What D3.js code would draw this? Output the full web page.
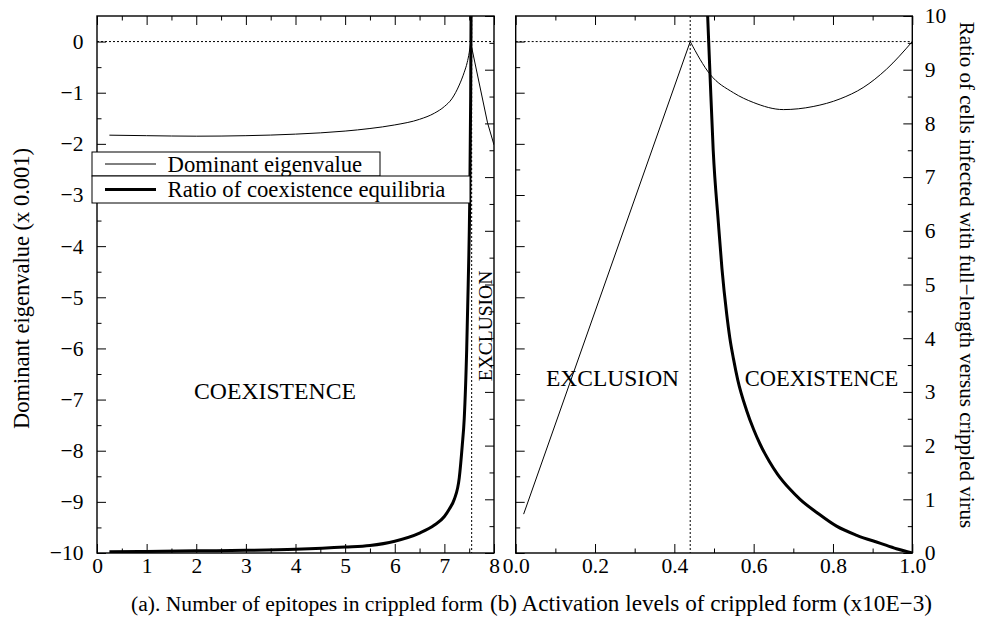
<!DOCTYPE html>
<html>
<head>
<meta charset="utf-8">
<script src="https://cdn.jsdelivr.net/npm/d3@7"></script>
<style>
  html, body { margin: 0; padding: 0; background: #fff; }
  svg { display: block; }
</style>
</head>
<body>
<script>
// ---------------- DATA ----------------
// Panel (a): x = number of epitopes in crippled form
const eigA_x = [0.25, 1, 2, 3, 4, 5, 5.5, 6, 6.5, 6.8, 7.0, 7.15, 7.3, 7.4, 7.46, 7.5, 7.53];
const eigA_y = [-1.83, -1.84, -1.85, -1.84, -1.81, -1.75, -1.70, -1.63, -1.52, -1.40, -1.27, -1.12, -0.85, -0.60, -0.41, -0.22, -0.02];
const eigA_fall_x = [7.53, 7.87, 8.0];
const eigA_fall_y = [-0.02, -1.59, -2.02];
const ratA_x = [0.25, 1, 2, 3, 4, 5, 5.5, 6, 6.5, 6.8, 7.0, 7.1, 7.2, 7.3, 7.36, 7.4, 7.45, 7.48, 7.51, 7.53, 7.54];
const ratA_y = [0.025, 0.03, 0.04, 0.05, 0.07, 0.11, 0.14, 0.22, 0.37, 0.52, 0.68, 0.82, 1.0, 1.4, 2.0, 2.5, 3.8, 5.0, 6.5, 8.5, 10.5];
const critA = 7.55;

// Panel (b): x = activation levels of crippled form
const eigB_rise_x = [0.02, 0.44];
const eigB_rise_y = [-9.24, 0];
const eigB_x = [0.44, 0.49, 0.549, 0.599, 0.675, 0.75, 0.818, 0.876, 0.935, 1.0];
const eigB_y = [0, -0.64, -1.0, -1.19, -1.33, -1.27, -1.12, -0.9, -0.54, 0];
const ratB_x = [0.484, 0.49, 0.498, 0.511, 0.52, 0.532, 0.54, 0.549, 0.56, 0.582, 0.6, 0.616, 0.64, 0.66, 0.69, 0.717, 0.76, 0.809, 0.86, 0.92, 0.96, 1.0];
const ratB_y = [10, 8.9, 7.5, 6.15, 5.3, 4.45, 4.0, 3.62, 3.22, 2.66, 2.3, 2.03, 1.7, 1.47, 1.2, 1.0, 0.75, 0.5, 0.33, 0.18, 0.08, 0];
const critB = 0.44;

// Ticks
const xaMajor = [0, 1, 2, 3, 4, 5, 6, 7, 8];
const xaMinor = [0.5, 1.5, 2.5, 3.5, 4.5, 5.5, 6.5, 7.5];
const xbMajor = [0.0, 0.2, 0.4, 0.6, 0.8, 1.0];
const xbMinor = [0.1, 0.3, 0.5, 0.7, 0.9];
const yeMajor = [-10, -9, -8, -7, -6, -5, -4, -3, -2, -1, 0];
const yeMinor = [-9.5, -8.5, -7.5, -6.5, -5.5, -4.5, -3.5, -2.5, -1.5, -0.5];
const y2Major = [0, 1, 2, 3, 4, 5, 6, 7, 8, 9, 10];
const y2Minor = [0.5, 1.5, 2.5, 3.5, 4.5, 5.5, 6.5, 7.5, 8.5, 9.5];

// Text
const legendLabels = ["Dominant eigenvalue", "Ratio of coexistence equilibria"];
const yLabel = "Dominant eigenvalue (x 0.001)";
const y2Label = "Ratio of cells infected with full\u2212length versus crippled virus";
const xaLabel = "(a). Number of epitopes in crippled form";
const xbLabel = "(b) Activation levels of crippled form (x10E\u22123)";

// ---------------- LAYOUT ----------------
const W = 981, H = 617;
const pTop = 16, pBot = 553;
const aL = 97, aR = 494, bL = 515.7, bR = 912.3;
const FONT = "'Liberation Serif', 'Times New Roman', serif";

const svg = d3.select("body").append("svg").attr("width", W).attr("height", H);

const xa = d3.scaleLinear().domain([0, 8]).range([aL, aR]);
const xb = d3.scaleLinear().domain([0, 1]).range([bL, bR]);
const ye = d3.scaleLinear().domain([-10, 0.5]).range([pBot, pTop]);
const y2 = d3.scaleLinear().domain([0, 10]).range([pBot, pTop]);

// clip paths
const defs = svg.append("defs");
defs.append("clipPath").attr("id", "clipA").append("rect")
  .attr("x", aL).attr("y", pTop).attr("width", aR - aL).attr("height", pBot - pTop);
defs.append("clipPath").attr("id", "clipB").append("rect")
  .attr("x", bL).attr("y", pTop).attr("width", bR - bL).attr("height", pBot - pTop);

function styleAxis(g, fs) {
  g.select(".domain").remove();
  g.attr("font-family", FONT).attr("font-size", fs);
  g.selectAll(".tick line").attr("stroke", "#000").attr("stroke-width", 1);
  g.selectAll(".tick text").attr("fill", "#000");
}
function addAxis(axisGen, tx, ty, fs) {
  svg.append("g").attr("transform", `translate(${tx},${ty})`)
    .call(axisGen).call(g => styleAxis(g, fs || 21.5));
}
const MAJ = -9, MIN = -4.5;

// Panel (a) axes
addAxis(d3.axisBottom(xa).tickValues(xaMajor).tickSize(MAJ).tickPadding(5).tickFormat(d3.format("d")), 0, pBot);
addAxis(d3.axisBottom(xa).tickValues(xaMinor).tickSize(MIN).tickFormat(""), 0, pBot);
addAxis(d3.axisTop(xa).tickValues(xaMajor).tickSize(MAJ).tickFormat(""), 0, pTop);
addAxis(d3.axisTop(xa).tickValues(xaMinor).tickSize(MIN).tickFormat(""), 0, pTop);
addAxis(d3.axisLeft(ye).tickValues(yeMajor).tickSize(MAJ).tickPadding(13.5).tickFormat(d3.format("d")), aL, 0);
addAxis(d3.axisLeft(ye).tickValues(yeMinor).tickSize(MIN).tickFormat(""), aL, 0);
addAxis(d3.axisRight(y2).tickValues(y2Major).tickSize(MAJ).tickFormat(""), aR, 0);
addAxis(d3.axisRight(y2).tickValues(y2Minor).tickSize(MIN).tickFormat(""), aR, 0);

// Panel (b) axes
addAxis(d3.axisBottom(xb).tickValues(xbMajor).tickSize(MAJ).tickPadding(5).tickFormat(d3.format(".1f")), 0, pBot);
addAxis(d3.axisBottom(xb).tickValues(xbMinor).tickSize(MIN).tickFormat(""), 0, pBot);
addAxis(d3.axisTop(xb).tickValues(xbMajor).tickSize(MAJ).tickFormat(""), 0, pTop);
addAxis(d3.axisTop(xb).tickValues(xbMinor).tickSize(MIN).tickFormat(""), 0, pTop);
addAxis(d3.axisLeft(ye).tickValues(yeMajor).tickSize(MAJ).tickFormat(""), bL, 0);
addAxis(d3.axisLeft(ye).tickValues(yeMinor).tickSize(MIN).tickFormat(""), bL, 0);
addAxis(d3.axisRight(y2).tickValues(y2Major).tickSize(MAJ).tickPadding(12.5).tickFormat(d3.format("d")), bR, 0);
addAxis(d3.axisRight(y2).tickValues(y2Minor).tickSize(MIN).tickFormat(""), bR, 0);

// dotted reference lines
const dotted = (g, x1, y1, x2, y2v) => g.append("line")
  .attr("x1", x1).attr("y1", y1).attr("x2", x2).attr("y2", y2v)
  .attr("stroke", "#000").attr("stroke-width", 1).attr("stroke-dasharray", "2,2");

const gA = svg.append("g").attr("clip-path", "url(#clipA)");
const gB = svg.append("g").attr("clip-path", "url(#clipB)");

dotted(gA, xa(0), ye(0), xa(8), ye(0));
dotted(gA, xa(critA), pTop, xa(critA), pBot);
dotted(gB, xb(0), ye(0), xb(1), ye(0));
dotted(gB, xb(critB), pTop, xb(critB), pBot);

// curves
const zip = (xs, ys) => xs.map((x, i) => [x, ys[i]]);
function drawLine(g, xs, ys, xS, yS, curve, w) {
  g.append("path")
    .datum(zip(xs, ys))
    .attr("fill", "none").attr("stroke", "#000").attr("stroke-width", w)
    .attr("stroke-linejoin", "round")
    .attr("d", d3.line().x(d => xS(d[0])).y(d => yS(d[1])).curve(curve));
}
drawLine(gA, eigA_x, eigA_y, xa, ye, d3.curveMonotoneX, 1);
drawLine(gA, eigA_fall_x, eigA_fall_y, xa, ye, d3.curveLinear, 1);
drawLine(gA, ratA_x, ratA_y, xa, y2, d3.curveMonotoneX, 3);

drawLine(gB, eigB_rise_x, eigB_rise_y, xb, ye, d3.curveLinear, 1);
drawLine(gB, eigB_x, eigB_y, xb, ye, d3.curveMonotoneX, 1);
drawLine(gB, ratB_x, ratB_y, xb, y2, d3.curveMonotoneX, 3);

// frames
[[aL, aR], [bL, bR]].forEach(([l, r]) => {
  svg.append("rect").attr("x", l).attr("y", pTop).attr("width", r - l).attr("height", pBot - pTop)
    .attr("fill", "none").attr("stroke", "#000").attr("stroke-width", 1.4);
});

// legend
const leg = svg.append("g").attr("font-family", FONT).attr("font-size", 22.7);
const legBoxes = [[92, 152, 380, 176], [92, 176, 470, 203]];
legBoxes.forEach((b, i) => {
  leg.append("rect").attr("x", b[0]).attr("y", b[1]).attr("width", b[2] - b[0]).attr("height", b[3] - b[1])
    .attr("fill", "#fff").attr("stroke", "#000").attr("stroke-width", 1);
  const cy = (b[1] + b[3]) / 2;
  leg.append("line").attr("x1", 105).attr("x2", 156).attr("y1", cy).attr("y2", cy)
    .attr("stroke", "#000").attr("stroke-width", i === 0 ? 1 : 3);
  leg.append("text").attr("x", 167.5).attr("y", cy + 7.5).text(legendLabels[i]);
});

// region annotations
const ann = svg.append("g").attr("font-family", FONT).attr("fill", "#000");
ann.append("text").attr("x", 275).attr("y", 398.5).attr("text-anchor", "middle")
  .attr("font-size", 23.7).text("COEXISTENCE");
ann.append("text").attr("transform", "translate(492,326) rotate(-90)").attr("text-anchor", "middle")
  .attr("font-size", 19.5).text("EXCLUSION");
ann.append("text").attr("x", 612.5).attr("y", 386).attr("text-anchor", "middle")
  .attr("font-size", 23.5).text("EXCLUSION");
ann.append("text").attr("x", 821.5).attr("y", 386).attr("text-anchor", "middle")
  .attr("font-size", 22.5).text("COEXISTENCE");

// axis titles
const tt = svg.append("g").attr("font-family", FONT).attr("fill", "#000");
tt.append("text").attr("transform", "translate(29,288.5) rotate(-90)").attr("text-anchor", "middle")
  .attr("font-size", 22.5).text(yLabel);
tt.append("text").attr("transform", "translate(960,275) rotate(90)").attr("text-anchor", "middle")
  .attr("font-size", 21).text(y2Label);
tt.append("text").attr("x", 307).attr("y", 611).attr("text-anchor", "middle")
  .attr("font-size", 21.6).text(xaLabel);
tt.append("text").attr("x", 711).attr("y", 611).attr("text-anchor", "middle")
  .attr("font-size", 23.2).text(xbLabel);
</script>
</body>
</html>
